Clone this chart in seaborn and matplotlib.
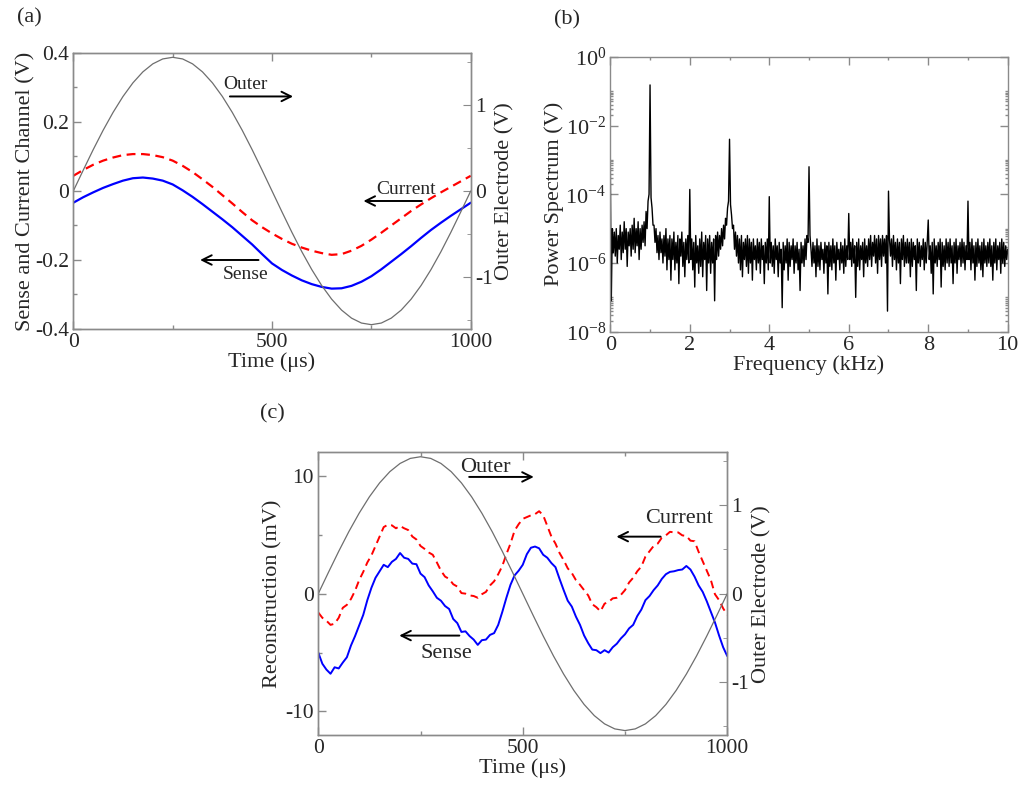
import numpy as np
import seaborn as sns
import matplotlib
matplotlib.use('Agg')
import matplotlib.pyplot as plt
from matplotlib.ticker import MultipleLocator, FuncFormatter, FixedLocator, LogFormatterMathtext, NullFormatter

sns.set_style('ticks')
plt.rcParams['font.family'] = ['Liberation Serif', 'DejaVu Serif']
plt.rcParams['mathtext.fontset'] = 'stix'
plt.rcParams['axes.unicode_minus'] = False

# ---- panel (a): raw channels, read every 25 us ----
t_a = np.arange(0, 1001, 25)
current_a = [0.044, 0.061, 0.076, 0.088, 0.097, 0.104, 0.107, 0.107, 0.104, 0.098, 0.088,
             0.073, 0.055, 0.034, 0.012, -0.012, -0.036, -0.061, -0.085, -0.105, -0.123,
             -0.139, -0.153, -0.164, -0.173, -0.180, -0.185, -0.183, -0.173, -0.159, -0.141,
             -0.121, -0.100, -0.079, -0.058, -0.039, -0.021, -0.004, 0.012, 0.028, 0.044]
sense_a = [-0.034, -0.018, -0.004, 0.009, 0.020, 0.030, 0.037, 0.039, 0.036, 0.030, 0.019,
           0.002, -0.017, -0.038, -0.060, -0.082, -0.105, -0.130, -0.155, -0.183, -0.210,
           -0.229, -0.245, -0.259, -0.270, -0.278, -0.283, -0.282, -0.275, -0.263, -0.247,
           -0.227, -0.205, -0.183, -0.160, -0.136, -0.113, -0.092, -0.072, -0.053, -0.034]

# outer electrode drive (V), every 25 us
t_outer = np.arange(0, 1001, 25)
outer_v = [0, 0.242, 0.479, 0.704, 0.911, 1.096, 1.254, 1.381, 1.474, 1.531, 1.55,
           1.531, 1.474, 1.381, 1.254, 1.096, 0.911, 0.704, 0.479, 0.242, 0,
           -0.242, -0.479, -0.704, -0.911, -1.096, -1.254, -1.381, -1.474, -1.531, -1.55,
           -1.531, -1.474, -1.381, -1.254, -1.096, -0.911, -0.704, -0.479, -0.242, 0]

# ---- panel (b): power spectrum, log10 values every 0.025 kHz ----
freq_b = np.arange(401) * 0.025
spec_log = [
    -3.2, -7.1, -5.0, -5.7, -5.1, -5.8, -5.0, -6.0, -5.2, -5.6, -4.9, -5.9, -5.1, -5.7, -4.8, -5.6, -5.0, -6.1, -5.1, -5.5,
    -5.0, -5.8, -4.9, -5.6, -4.7, -5.7, -5.0, -5.5, -4.8, -5.9, -5.0, -5.6, -4.9, -5.4, -4.8, -5.5, -4.5, -5.0, -4.2, -4.0,
    -0.82, -4.1, -4.4, -4.9, -4.9, -5.4, -5.0, -5.7, -5.2, -5.9, -5.1, -5.7, -5.3, -6.0, -5.2, -5.8, -5.0, -6.2, -5.3, -5.9,
    -5.2, -6.5, -5.3, -5.9, -5.1, -6.2, -5.4, -6.0, -5.2, -6.6, -5.3, -5.8, -5.1, -6.1, -5.4, -6.4, -5.3, -5.9, -5.2, -6.0,
    -3.86, -5.9, -5.3, -6.2, -5.4, -6.7, -5.2, -6.0, -5.5, -6.3, -5.3, -6.1, -5.1, -6.4, -5.4, -5.9, -5.2, -6.8, -5.3, -6.0,
    -5.2, -6.3, -5.4, -6.0, -5.3, -7.1, -5.2, -5.9, -5.1, -5.8, -5.2, -5.6, -5.0, -5.5, -4.9, -5.3, -4.7, -4.9, -4.4, -4.2,
    -2.40, -4.3, -4.6, -5.0, -4.9, -5.6, -5.1, -5.8, -5.2, -6.0, -5.3, -6.2, -5.2, -6.4, -5.4, -5.9, -5.3, -6.1, -5.2, -6.3,
    -5.3, -6.0, -5.4, -6.5, -5.3, -5.9, -5.5, -6.2, -5.3, -6.0, -5.4, -6.3, -5.3, -5.9, -5.5, -6.6, -5.4, -6.0, -5.3, -6.2,
    -4.07, -6.0, -5.4, -6.1, -5.5, -6.3, -5.3, -5.9, -5.5, -6.4, -5.4, -6.0, -5.6, -7.3, -5.4, -6.2, -5.5, -6.0, -5.3, -6.5,
    -5.4, -6.1, -5.5, -5.9, -5.3, -6.3, -5.5, -6.0, -5.4, -6.2, -5.6, -6.8, -5.4, -6.0, -5.5, -6.1, -5.3, -5.9, -5.2, -5.4,
    -3.20, -5.2, -5.6, -6.1, -5.4, -6.0, -5.5, -6.4, -5.3, -6.1, -5.5, -6.2, -5.4, -5.9, -5.6, -6.3, -5.4, -6.0, -5.5, -6.9,
    -5.4, -6.1, -5.5, -6.2, -5.3, -6.0, -5.5, -6.5, -5.4, -5.9, -5.6, -6.2, -5.4, -6.0, -5.5, -6.3, -5.3, -6.1, -5.5, -5.9,
    -4.56, -5.9, -5.4, -6.1, -5.3, -6.0, -5.5, -7.0, -5.4, -6.1, -5.3, -6.2, -5.5, -5.9, -5.4, -6.4, -5.3, -6.0, -5.5, -6.1,
    -5.3, -5.9, -5.2, -6.1, -5.4, -5.8, -5.2, -6.0, -5.3, -6.3, -5.2, -5.9, -5.3, -6.1, -5.2, -5.8, -5.3, -6.0, -5.2, -7.4,
    -3.91, -5.3, -5.8, -5.3, -6.1, -5.2, -5.9, -5.4, -6.2, -5.3, -6.0, -5.4, -6.6, -5.3, -5.9, -5.2, -6.1, -5.4, -6.0, -5.3,
    -6.0, -5.4, -6.4, -5.3, -6.1, -5.4, -5.9, -5.5, -6.8, -5.3, -6.0, -5.4, -6.1, -5.5, -5.9, -5.3, -6.2, -5.4, -6.0, -5.4,
    -4.75, -5.9, -5.5, -6.3, -5.4, -6.9, -5.3, -6.0, -5.5, -6.1, -5.4, -5.9, -5.3, -6.7, -5.4, -6.1, -5.5, -6.2, -5.3, -6.0,
    -5.4, -6.1, -5.3, -6.0, -5.5, -6.6, -5.4, -6.0, -5.3, -6.3, -5.5, -5.9, -5.4, -6.1, -5.3, -6.0, -5.4, -6.2, -5.5, -5.9,
    -4.20, -5.9, -5.4, -6.2, -5.3, -6.0, -5.5, -6.5, -5.4, -6.1, -5.3, -6.0, -5.5, -6.2, -5.4, -6.4, -5.3, -6.0, -5.5, -6.1,
    -5.4, -6.0, -5.3, -6.1, -5.5, -6.5, -5.4, -6.0, -5.3, -6.2, -5.5, -5.9, -5.4, -6.3, -5.3, -6.0, -5.4, -6.1, -5.5, -5.9,
    -5.6]

# ---- panel (c): reconstruction (mV), every 10 us ----
t_c = np.arange(0, 1001, 10)
sense_c = [-5.0, -5.95, -6.45, -6.8, -6.25, -6.35, -5.85, -5.4, -4.4, -3.6,
           -2.7, -1.8, -0.55, 0.5, 1.35, 1.9, 2.45, 2.25, 2.7, 2.95,
           3.45, 3.05, 2.95, 2.55, 2.5, 1.7, 1.4, 0.7, 0.2, -0.35,
           -0.6, -1.05, -1.3, -2.15, -2.5, -3.25, -3.2, -3.6, -3.9, -4.35,
           -3.95, -3.9, -3.5, -3.35, -2.65, -1.55, -0.35, 0.75, 1.55, 1.95,
           2.45, 3.35, 3.9, 4.0, 3.85, 3.3, 3.05, 2.6, 2.25, 1.25,
           0.3, -0.6, -1.1, -1.95, -2.65, -3.55, -4.2, -4.75, -4.8, -5.05,
           -4.8, -5.0, -4.55, -4.25, -3.8, -3.45, -2.95, -2.65, -1.9, -1.35,
           -0.55, -0.2, 0.3, 0.7, 1.25, 1.65, 1.85, 1.9, 2.0, 2.05,
           2.35, 2.05, 1.45, 0.7, 0.15, -0.65, -1.55, -2.45, -3.55, -4.55,
           -5.3]
current_c = [-1.6, -2.05, -2.3, -2.65, -2.55, -2.05, -1.2, -0.95, -0.45, 0.25,
             1.15, 1.85, 2.65, 3.25, 4.05, 4.85, 5.65, 5.85, 5.8, 5.55,
             5.75, 5.55, 5.4, 4.85, 4.6, 4.05, 3.8, 3.5, 3.3, 2.65,
             1.95, 1.45, 1.25, 0.8, 0.6, 0.05, 0.0, -0.15, -0.2, -0.35,
             -0.05, 0.15, 0.7, 1.05, 1.65, 2.35, 3.35, 4.25, 5.35, 5.9,
             6.35, 6.5, 6.65, 6.75, 7.0, 6.65, 5.75, 4.85, 4.25, 3.45,
             2.85, 2.15, 1.75, 1.15, 0.75, 0.3, -0.15, -0.9, -1.15, -1.5,
             -0.85, -0.7, -0.4, -0.35, -0.1, 0.3, 0.95, 1.35, 1.9, 2.3,
             3.15, 3.6, 4.05, 4.25, 4.75, 4.95, 5.25, 5.2, 5.2, 4.95,
             4.9, 4.5, 4.45, 3.55, 2.75, 1.95, 1.15, -0.05, -0.55, -1.25,
             -1.8]

GRAY = '#8a8a8a'
OUTER = '#6e6e6e'
DASH = (0, (4, 2.5))


def plain(v, pos):
    return '0' if abs(v) < 1e-9 else f'{v:g}'


def frame(ax, labelsize=15.5):
    for s in ax.spines.values():
        s.set_color(GRAY)
        s.set_linewidth(1.0)
    ax.tick_params(which='both', direction='in', color=GRAY, labelsize=labelsize,
                   top=True, pad=3)
    ax.tick_params(which='major', length=6, width=1.0)
    ax.tick_params(which='minor', length=3, width=1.0)


def note(ax, text, txy, a0, a1, fs):
    ax.text(txy[0], txy[1], text, ha='center', va='center', fontsize=fs)
    ax.annotate('', xy=a1, xytext=a0,
                arrowprops=dict(arrowstyle='->', color='black', lw=1.4,
                                mutation_scale=17, shrinkA=0, shrinkB=0))


def outer_twin(ax):
    ax2 = ax.twinx()
    sns.lineplot(x=t_outer, y=outer_v, ax=ax2, color=OUTER, lw=0.9)
    ax2.set_ylim(-1.6, 1.6)
    ax2.set_xlim(0, 1000)
    ax2.yaxis.set_major_locator(FixedLocator([-1, 0, 1]))
    ax2.yaxis.set_minor_locator(MultipleLocator(0.5))
    ax2.yaxis.set_major_formatter(FuncFormatter(plain))
    for s in ax2.spines.values():
        s.set_color(GRAY)
        s.set_linewidth(1.0)
    ax2.tick_params(which='both', direction='in', color=GRAY, labelsize=15.5, pad=3)
    ax2.tick_params(which='major', length=6)
    ax2.tick_params(which='minor', length=3)
    ax2.set_ylabel('Outer Electrode (V)', fontsize=16, labelpad=2)
    return ax2


fig = plt.figure(figsize=(10.24, 7.85), dpi=100)

# (a)
ax_a = fig.add_axes([0.0716, 0.5809, 0.3881, 0.3516])
sns.lineplot(x=t_a, y=current_a, ax=ax_a, color='#ff0000', lw=1.6, linestyle=DASH)
sns.lineplot(x=t_a, y=sense_a, ax=ax_a, color='#0000ff', lw=1.6)
ax_a.set_xlim(0, 1000)
ax_a.set_ylim(-0.4, 0.4)
ax_a.xaxis.set_major_locator(MultipleLocator(500))
ax_a.xaxis.set_minor_locator(MultipleLocator(250))
ax_a.yaxis.set_major_locator(MultipleLocator(0.2))
ax_a.yaxis.set_minor_locator(MultipleLocator(0.1))
ax_a.yaxis.set_major_formatter(FuncFormatter(plain))
frame(ax_a)
ax_a.set_xlabel('Time (μs)', fontsize=16, labelpad=0)
ax_a.set_ylabel('Sense and Current Channel (V)', fontsize=16, labelpad=0)
outer_twin(ax_a)
note(ax_a, 'Outer', (432, 0.309), (394, 0.274), (553, 0.274), 14)
note(ax_a, 'Current', (837, 0.004), (877, -0.029), (730, -0.029), 14)
note(ax_a, 'Sense', (434, -0.243), (466, -0.200), (319, -0.200), 14)

# (b)
ax_b = fig.add_axes([0.5960, 0.5774, 0.3881, 0.3503])
sns.lineplot(x=freq_b, y=10.0 ** np.array(spec_log), ax=ax_b, color='black', lw=1.0)
ax_b.set_yscale('log')
ax_b.set_xlim(0, 10)
ax_b.set_ylim(1e-8, 1e0)
ax_b.xaxis.set_major_locator(MultipleLocator(2))
ax_b.xaxis.set_minor_locator(MultipleLocator(1))
ax_b.yaxis.set_major_locator(FixedLocator([1e-8, 1e-6, 1e-4, 1e-2, 1e0]))
ax_b.yaxis.set_major_formatter(LogFormatterMathtext())
minor_b = [k * 10.0 ** d for d in (-8, -6, -4, -2) for k in range(2, 11)]
ax_b.yaxis.set_minor_locator(FixedLocator(minor_b))
ax_b.yaxis.set_minor_formatter(NullFormatter())
frame(ax_b, labelsize=16)
ax_b.tick_params(which='both', right=True)
ax_b.tick_params(which='minor', length=2)
ax_b.set_xlabel('Frequency (kHz)', fontsize=16, labelpad=0)
ax_b.set_ylabel('Power Spectrum (V)', fontsize=16, labelpad=1)

# (c)
ax_c = fig.add_axes([0.3108, 0.0637, 0.3994, 0.3601])
sns.lineplot(x=t_c, y=current_c, ax=ax_c, color='#ff0000', lw=1.4, linestyle=DASH)
sns.lineplot(x=t_c, y=sense_c, ax=ax_c, color='#0000ff', lw=1.4)
ax_c.set_xlim(0, 1000)
ax_c.set_ylim(-12, 12)
ax_c.xaxis.set_major_locator(MultipleLocator(500))
ax_c.xaxis.set_minor_locator(MultipleLocator(250))
ax_c.yaxis.set_major_locator(MultipleLocator(10))
ax_c.yaxis.set_minor_locator(MultipleLocator(5))
ax_c.yaxis.set_major_formatter(FuncFormatter(plain))
frame(ax_c)
ax_c.set_xlabel('Time (μs)', fontsize=16, labelpad=0)
ax_c.set_ylabel('Reconstruction (mV)', fontsize=16, labelpad=2)
outer_twin(ax_c)
note(ax_c, 'Outer', (409, 10.68), (369, 9.91), (527, 9.91), 16)
note(ax_c, 'Current', (883, 6.35), (837, 4.84), (729, 4.84), 16)
note(ax_c, 'Sense', (314, -5.04), (345, -3.56), (198, -3.56), 16)

fig.text(0.0166, 0.977, '(a)', fontsize=16, va='center', ha='left')
fig.text(0.5407, 0.975, '(b)', fontsize=16, va='center', ha='left')
fig.text(0.2540, 0.473, '(c)', fontsize=16, va='center', ha='left')

fig.savefig('out.png', dpi=100)
